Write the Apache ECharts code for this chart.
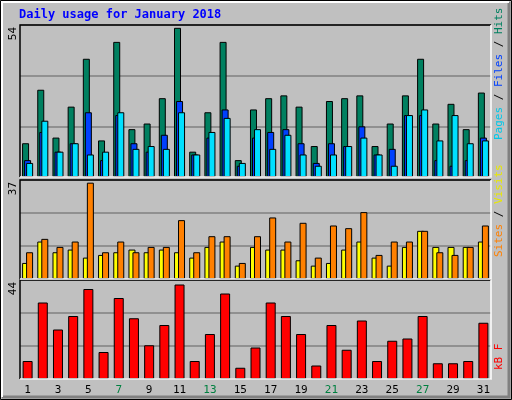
<!DOCTYPE html>
<html><head><meta charset="utf-8">
<script src="https://cdn.jsdelivr.net/npm/echarts@6/dist/echarts.min.js"></script>
<style>html,body{margin:0;padding:0;background:#c0c0c0}#c{width:512px;height:400px}</style>
</head><body><div id="c"></div>
<script>
const days = ['1','2','3','4','5','6','7','8','9','10','11','12','13','14','15','16','17','18','19','20','21','22','23','24','25','26','27','28','29','30','31'];
const weekend = ['6','7','13','14','20','21','27','28'];
const hits  = [12,31,14,25,42,13,48,17,19,28,53,9,23,48,6,24,28,29,25,11,27,28,29,11,19,29,42,19,26,17,30];
const files = [6,16,9,12,23,6,22,12,9,15,27,8,14,24,4,14,16,17,12,5,12,11,18,8,10,22,22,6,4,6,14];
const pages = [5,20,9,12,8,9,23,10,11,10,23,8,16,21,5,17,10,15,8,4,8,11,14,8,4,22,24,13,22,12,13];
const visits = [10,15,12,14,36,10,14,10,12,12,22,10,16,16,6,16,23,14,21,8,20,19,25,9,14,14,18,10,9,12,20];
const sites  = [6,14,10,11,8,9,10,11,10,11,10,8,12,14,5,12,11,11,7,5,6,11,14,8,5,12,18,12,12,12,14];
const kbytes = [8,34,22,28,40,12,36,27,15,24,42,8,20,38,5,14,34,28,20,6,24,13,26,8,17,18,28,7,7,8,25];
const maxTop = 54, maxMid = 37, maxBot = 44;

const F = 'DejaVu Sans Mono';
const grids = [
  {left:20, width:471, top:25, height:152},
  {left:20, width:471, top:180, height:99},
  {left:20, width:471, top:280, height:99}
];
function xa(i, show){return {type:'category', gridIndex:i, data:days, boundaryGap:true,
  axisLine:{show:false}, axisTick:{show:false},
  axisLabel:{show:show, margin:6, fontFamily:F, fontSize:11,
    color:v=>weekend.includes(v)?'#008040':'#000'}}}
function ya(i,max){return {type:'value', gridIndex:i, min:0, max:max, interval:max/3,
  axisLine:{show:false}, axisTick:{show:false}, axisLabel:{show:false},
  splitLine:{lineStyle:{color:'#808080', width:1.5}}}}
const bs = {borderColor:'#000', borderWidth:1};
const chart = echarts.init(document.getElementById('c'));
function vtext(x,y,parts){ // reading bottom->top, starting at y going up
  return {type:'text', x:x, y:y, rotation:Math.PI/2, style:{rich:{
    a:{fill:parts[0][1]},b:{fill:parts[1]?parts[1][1]:'#000'},c:{fill:parts[2]?parts[2][1]:'#000'},d:{fill:'#000'}},
    text:parts.map((p,k)=>'{'+'abc'[k]+'|'+p[0]+'}').join('{d| / }'),
    font:'11px '+F, verticalAlign:'top', align:'left'}};
}
chart.setOption({
  animation:false,
  backgroundColor:'#c0c0c0',
  graphic:[
    {type:'rect', shape:{x:0.5,y:0.5,width:511,height:399}, style:{fill:'none', stroke:'#000', lineWidth:1}, z:-1},
    {type:'polyline', shape:{points:[[2,397],[509,397],[509,2]]}, style:{stroke:'#808080', lineWidth:3, fill:'none'}},
    {type:'polyline', shape:{points:[[2,397],[2,2],[509,2]]}, style:{stroke:'#fff', lineWidth:2, fill:'none'}},
    {type:'text', x:19, y:9, style:{text:'Daily usage for January 2018', font:'bold 12px '+F, fill:'#0000ff'}},
    ...grids.map(g=>({type:'polyline', z:10, shape:{points:[[g.left,g.top+g.height],[g.left,g.top],[g.left+g.width,g.top]]}, style:{stroke:'#000', lineWidth:1.5, fill:'none'}})),
    ...grids.map(g=>({type:'polyline', z:10, shape:{points:[[g.left,g.top+g.height],[g.left+g.width,g.top+g.height],[g.left+g.width,g.top]]}, style:{stroke:'#fff', lineWidth:1.5, fill:'none'}})),
    {type:'text', x:19, y:27, rotation:Math.PI/2, style:{text:String(maxTop), font:'11px '+F, fill:'#000', align:'right', verticalAlign:'bottom'}},
    {type:'text', x:19, y:182, rotation:Math.PI/2, style:{text:String(maxMid), font:'11px '+F, fill:'#000', align:'right', verticalAlign:'bottom'}},
    {type:'text', x:19, y:282, rotation:Math.PI/2, style:{text:String(maxBot), font:'11px '+F, fill:'#000', align:'right', verticalAlign:'bottom'}},
    vtext(494,140,[['Pages','#00c8e8'],['Files','#0040ff'],['Hits','#008060']]),
    vtext(494,257,[['Sites','#ff8000'],['Visits','#e8e800']]),
    {type:'text', x:494, y:370, rotation:Math.PI/2, style:{text:'kB F', font:'11px '+F, fill:'#ff0000', verticalAlign:'top', align:'left'}}
  ],
  grid:grids,
  xAxis:[xa(0,false), xa(1,false), xa(2,true)],
  yAxis:[ya(0,maxTop), ya(1,maxMid), ya(2,maxBot)],
  series:[
    {type:'bar', name:'Hits', xAxisIndex:0, yAxisIndex:0, data:hits, barWidth:7, barGap:'-71%', itemStyle:{color:'#008060',...bs}},
    {type:'bar', name:'Files', xAxisIndex:0, yAxisIndex:0, data:files, barWidth:7, barGap:'-71%', itemStyle:{color:'#0040ff',...bs}},
    {type:'bar', name:'Pages', xAxisIndex:0, yAxisIndex:0, data:pages, barWidth:7, barGap:'-71%', itemStyle:{color:'#00e0ff',...bs}},
    {type:'bar', name:'Sites', xAxisIndex:1, yAxisIndex:1, data:sites, barWidth:7, barGap:'-43%', itemStyle:{color:'#ffff00',...bs}},
    {type:'bar', name:'Visits', xAxisIndex:1, yAxisIndex:1, data:visits, barWidth:7, barGap:'-43%', itemStyle:{color:'#ff8000',...bs}},
    {type:'bar', name:'kB F', xAxisIndex:2, yAxisIndex:2, data:kbytes, barWidth:10, itemStyle:{color:'#ff0000',...bs}}
  ]
});
</script></body></html>
